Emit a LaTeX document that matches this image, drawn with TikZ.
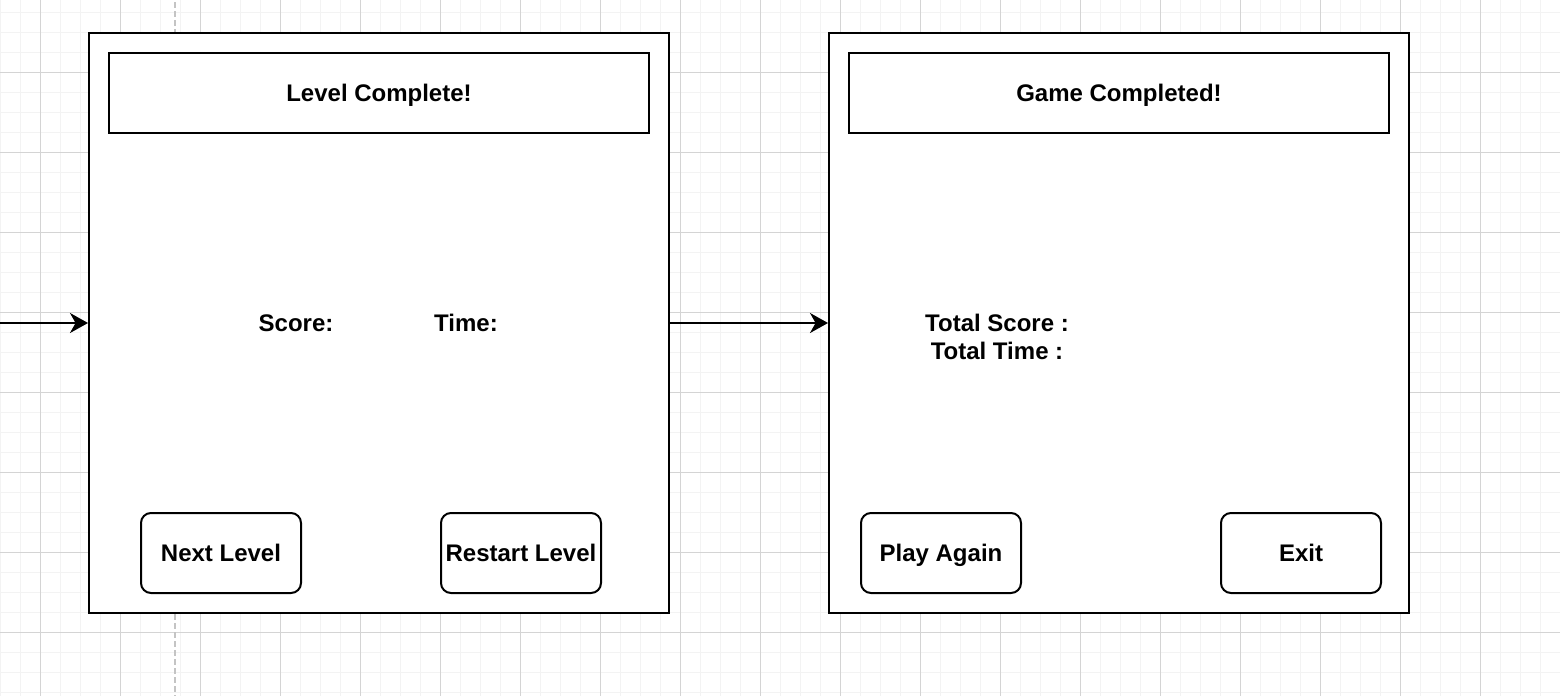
\documentclass[tikz,border=0pt]{standalone}
\usepackage{fontspec}
\setmainfont{Liberation Sans}
\usetikzlibrary{arrows.meta}
\definecolor{gridminor}{HTML}{F3F3F3}
\definecolor{gridmajor}{HTML}{D4D4D4}
\definecolor{guide}{HTML}{C4C4C4}
\tikzset{
  screen/.style={draw=black, fill=white, line width=1pt, minimum width=290pt, minimum height=290pt, inner sep=0pt},
  titlebox/.style={draw=black, fill=white, line width=1pt, minimum width=270pt, minimum height=40pt, inner sep=0pt, text height=8.6pt, text depth=0pt, font=\bfseries\fontsize{12}{14}\selectfont},
  btn/.style={draw=black, fill=white, line width=1pt, rounded corners=5pt, minimum width=80pt, minimum height=40pt, inner sep=0pt, text height=8.6pt, text depth=0pt, font=\bfseries\fontsize{12}{14}\selectfont},
  lbl/.style={inner sep=0pt, font=\bfseries\fontsize{12}{14}\selectfont, align=center},
  flow/.style={line width=1pt, -{Stealth[length=9pt, width=10pt, inset=2.8pt]}},
}
\begin{document}
\begin{tikzpicture}[x=0.5pt, y=-0.5pt]
\useasboundingbox (0,0) rectangle (1560,696);
\fill[white] (0,0) rectangle (1560,696);
% minor grid
\foreach \gx in {0,20,...,1560} \draw[gridminor, line width=0.5pt] (\gx,0) -- (\gx,696);
\foreach \gy in {12,32,...,696} \draw[gridminor, line width=0.5pt] (0,\gy) -- (1560,\gy);
% major grid
\foreach \gx in {40,120,...,1560} \draw[gridmajor, line width=0.5pt] (\gx,0) -- (\gx,696);
\foreach \gy in {72,152,...,696} \draw[gridmajor, line width=0.5pt] (0,\gy) -- (1560,\gy);
% guide
\draw[guide, line width=1pt, dash pattern=on 3pt off 1.5pt] (175,2) -- (175,696);

% left screen
\node[screen] (s1) at (379,323) {};
\node[titlebox] (t1) at (379,93) {Level Complete!};
\node[lbl] (score) at (296,323) {Score:};
\node[lbl] (time) at (466,323) {Time:};
\node[btn] (next) at (221,553) {Next Level};
\node[btn] (restart) at (521,553) {Restart Level};

% right screen
\node[screen] (s2) at (1119,323) {};
\node[titlebox] (t2) at (1119,93) {Game Completed!};
\node[lbl] (totals) at (997,337) {Total Score :\\Total Time :};
\node[btn] (again) at (941,553) {Play Again};
\node[btn] (exit) at (1301,553) {Exit};

% connectors
\coordinate (in) at (0,323);
\draw[flow] (in) -- (s1.west);
\draw[flow] (s1.east) -- (s2.west);
\end{tikzpicture}
\end{document}
